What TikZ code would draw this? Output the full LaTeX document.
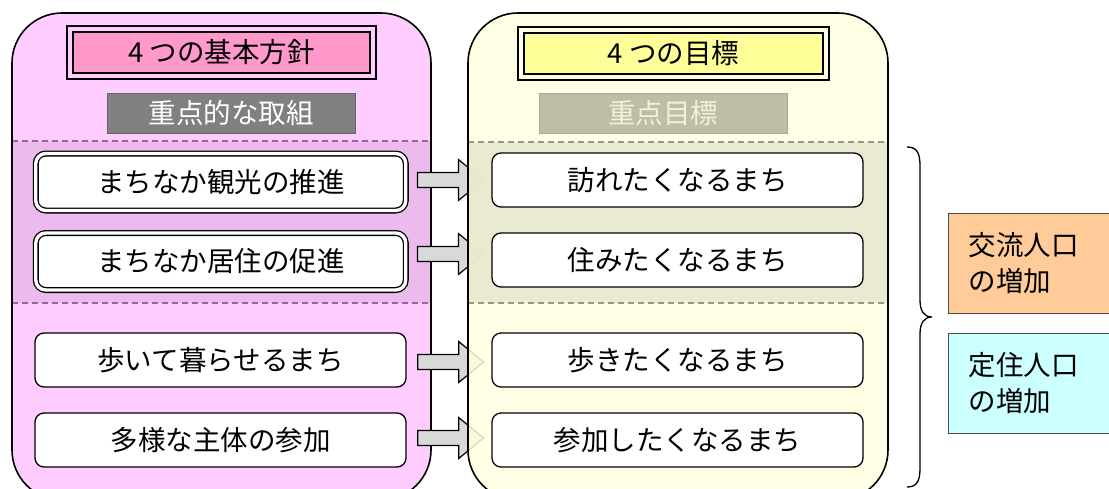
\documentclass[tikz,border=0pt]{standalone}
\usepackage{fontspec}
\newfontfamily\jp{Noto Sans CJK JP}
\usetikzlibrary{calc}
\definecolor{pinkbg}{HTML}{FFCCFF}
\definecolor{pinkband}{HTML}{ECBAEC}
\definecolor{pinkdash}{HTML}{996699}
\definecolor{pinktitle}{HTML}{FF99CC}
\definecolor{yelbg}{RGB}{255,255,226}
\definecolor{yelband}{RGB}{231,231,206}
\definecolor{yeldash}{HTML}{999980}
\definecolor{yeltitle}{HTML}{FFFF99}
\definecolor{graybox}{HTML}{808080}
\definecolor{olivebox}{RGB}{191,190,165}
\definecolor{olivetext}{RGB}{240,240,225}
\definecolor{arrowgray}{HTML}{D9D9D9}
\definecolor{orangebox}{HTML}{FFCC99}
\definecolor{cyanbox}{HTML}{CCFFFF}
\tikzset{
  txt/.style={font=\jp\fontsize{27.5}{33}\selectfont, inner sep=0pt},
  panel/.style={draw=black, line width=1.6pt, rounded corners=50pt},
  dbox/.style={txt, draw=black, fill=white, double=white, double distance=3.4pt, line width=1.3pt,
     rounded corners=10pt, minimum width=370pt, minimum height=57pt},
  sbox/.style={txt, draw=black, fill=white, line width=1.3pt, rounded corners=9pt,
     minimum width=371pt, minimum height=54pt},
  titlebox/.style={txt, draw=black, line width=1.8pt, double distance=4pt,
     minimum height=47pt},
  headbox/.style={txt, line width=1pt, minimum width=248pt, minimum height=40pt},
  blockarrow/.style={draw=black, fill=arrowgray, line width=1.2pt, line join=miter},
  sidebox/.style={txt, draw=black!70, line width=1pt, minimum width=170pt, minimum height=100pt,
     anchor=north west, align=left, text width=170pt, inner xsep=0pt},
}
\begin{document}
\begin{tikzpicture}[x=1pt,y=-1pt]
\clip (0,0) rectangle (1109,488);
\fill[white] (0,0) rectangle (1109,488);

% ---------- left panel ----------
\fill[pinkbg, rounded corners=50pt] (12,13) rectangle (431,500);
\fill[pinkband] (12,141) rectangle (431,303);
\draw[pinkdash, line width=1.2pt, dash pattern=on 6pt off 4pt] (12,141) -- (431,141);
\draw[pinkdash, line width=1.2pt, dash pattern=on 6pt off 4pt] (12,303) -- (431,303);
\draw[panel] (12,13) rectangle (431,500);

\node[titlebox, fill=pinktitle, double=pinkbg, minimum width=303pt] (T1) at (221.5,52.5)
  {\raisebox{-6pt}{4 つの基本方針}};
\node[headbox, fill=graybox, draw=black!60, text=white] (H1) at (231,113)
  {\raisebox{-6pt}{重点的な取組}};

\node[dbox] (L1) at (220.75,182) {\raisebox{-3pt}{まちなか観光の推進}};
\node[dbox] (L2) at (220.75,261.5) {\raisebox{-3pt}{まちなか居住の促進}};
\node[sbox] (L3) at (220.5,360) {\raisebox{-3pt}{歩いて暮らせるまち}};
\node[sbox] (L4) at (220.5,440) {\raisebox{-3pt}{多様な主体の参加}};

% ---------- arrows (partly behind right panel) ----------
\foreach \n/\dy in {1/-2, 2/-7.5, 3/2, 4/-2} {
  \draw[blockarrow] ($(L\n.east)+(11,\dy-7.5)$) -- ++(41,0) -- ++(0,-13) -- ++(25,20.5)
    -- ++(-25,20.5) -- ++(0,-13) -- ++(-41,0) -- cycle;
}

% ---------- right panel ----------
\fill[yelbg, fill opacity=0.85, rounded corners=50pt] (468,13) rectangle (888,500);
\fill[yelband, fill opacity=0.85] (468,142) rectangle (888,303);
\draw[yeldash, line width=1.2pt, dash pattern=on 6pt off 4pt] (468,142) -- (888,142);
\draw[yeldash, line width=1.2pt, dash pattern=on 6pt off 4pt] (468,303) -- (888,303);
\draw[panel] (468,13) rectangle (888,500);

\node[titlebox, fill=yeltitle, double=yelbg, minimum width=305pt] (T2) at (673.5,53.5)
  {\raisebox{-6pt}{4 つの目標}};
\node[headbox, fill=olivebox, draw=black!35, text=olivetext] (H2) at (663,113.5)
  {\raisebox{-6pt}{重点目標}};

\node[sbox] (R1) at (677.5,180) {\raisebox{-3pt}{訪れたくなるまち}};
\node[sbox] (R2) at (677.5,260) {\raisebox{-3pt}{住みたくなるまち}};
\node[sbox] (R3) at (677.5,360) {\raisebox{-3pt}{歩きたくなるまち}};
\node[sbox] (R4) at (677.5,440) {\raisebox{-3pt}{参加したくなるまち}};

% ---------- brace ----------
\coordinate (BT) at (907,147);
\coordinate (BM) at (932,317);
\coordinate (BB) at (907,487);
\draw[line width=1.3pt] (BT) .. controls (917,147) and (920,153) .. (920,166) -- (920,300)
  .. controls (920,311) and (924,317) .. (BM)
  .. controls (924,317) and (920,323) .. (920,334) -- (920,468)
  .. controls (920,481) and (917,487) .. (BB);

% ---------- outcome boxes ----------
\node[sidebox, fill=orangebox] (O1) at (948,213)
  {\hspace*{20pt}交流人口\\[3pt]\hspace*{20pt}の増加};
\node[sidebox, fill=cyanbox] (O2) at (948,333)
  {\hspace*{20pt}定住人口\\[3pt]\hspace*{20pt}の増加};
\end{tikzpicture}
\end{document}
